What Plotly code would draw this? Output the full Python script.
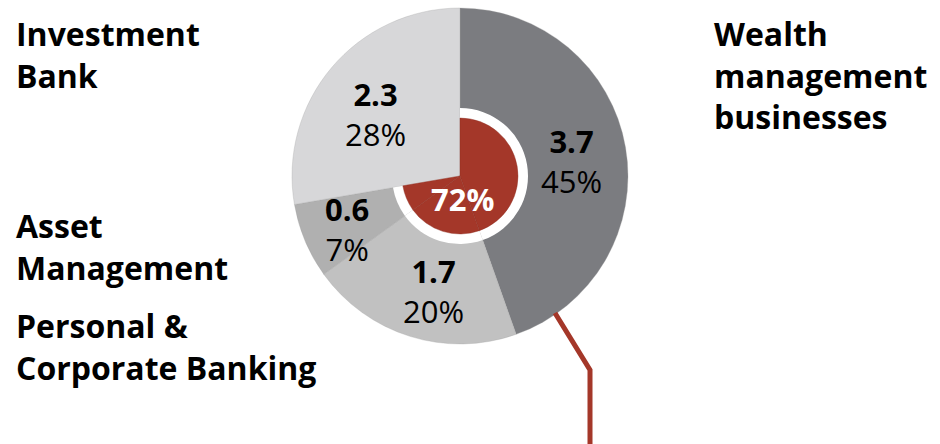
import plotly.graph_objects as go

# ---- data ----
segments = ["Wealth management businesses", "Personal & Corporate Banking",
            "Asset Management", "Investment Bank"]
values = [3.7, 1.7, 0.6, 2.3]
shares = ["45%", "20%", "7%", "28%"]
wealth_share_label = "72%"
inner_flags = [True, True, True, False]   # segments making up the 72%

# ---- style ----
W, H = 940, 444
CX, CY = 460, 176          # pie centre in pixels (from top)
R_OUT, R_RING, R_RED = 168, 68, 58
seg_colors = ["#7b7c80", "#c1c1c1", "#b0b0b0", "#d7d7d9"]
RED = "#a43729"
FONT = "Open Sans"
CLEAR = "rgba(0,0,0,0)"

def dom(r):
    return dict(x=[(CX - r) / W, (CX + r) / W],
                y=[(H - CY - r) / H, (H - CY + r) / H])

def px(x, y):
    return x / W, (H - y) / H

fig = go.Figure()
# outer full pie
fig.add_trace(go.Pie(values=values, labels=segments, sort=False, direction="clockwise",
                     rotation=0, domain=dom(R_OUT), textinfo="none", hoverinfo="skip",
                     marker=dict(colors=seg_colors, line=dict(color="#a0a0a0", width=0.3)),
                     showlegend=False))
# white ring behind red part
fig.add_trace(go.Pie(values=values, labels=segments, sort=False, direction="clockwise",
                     rotation=0, domain=dom(R_RING), textinfo="none", hoverinfo="skip",
                     marker=dict(colors=["white" if f else CLEAR for f in inner_flags],
                                 line=dict(width=0)),
                     showlegend=False))
# red inner pie
fig.add_trace(go.Pie(values=values, labels=segments, sort=False, direction="clockwise",
                     rotation=0, domain=dom(R_RED), textinfo="none", hoverinfo="skip",
                     marker=dict(colors=[RED if f else CLEAR for f in inner_flags],
                                 line=dict(color=["#8e2e22" if f else CLEAR for f in inner_flags],
                                           width=0.4)),
                     showlegend=False))

# slice value labels
label_pos = [(571, 161), (433, 291), (347, 229), (375, 114)]
for v, s, (lx, ly) in zip(values, shares, label_pos):
    x, y = px(lx, ly)
    fig.add_annotation(x=x, y=y, xref="paper", yref="paper", showarrow=False,
                       xanchor="center", yanchor="middle",
                       text=f"<b>{v}</b><br>{s}", align="center",
                       font=dict(family=FONT, size=31, color="black"))

x, y = px(462, 199)
fig.add_annotation(x=x, y=y, xref="paper", yref="paper", showarrow=False,
                   xanchor="center", yanchor="middle",
                   text=f"<b>{wealth_share_label}</b>",
                   font=dict(family=FONT, size=31, color="white"))

# category labels
cat_pos = [(712, 10, "Wealth<br>management<br>businesses"),
           (14, 302, "Personal &<br>Corporate Banking"),
           (14, 202, "Asset<br>Management"),
           (14, 10, "Investment<br>Bank")]
for lx, ly, txt in cat_pos:
    x, y = px(lx, ly)
    fig.add_annotation(x=x, y=y, xref="paper", yref="paper", showarrow=False,
                       xanchor="left", yanchor="top", align="left",
                       text=f"<b>{txt}</b>",
                       font=dict(family=FONT, size=32, color="black"))

# red leader line
pts = [px(555, 313), px(590, 370), px(590, 444)]
path = "M " + " L ".join(f"{a},{b}" for a, b in pts)
fig.add_shape(type="path", path=path, xref="paper", yref="paper",
              line=dict(color=RED, width=5), layer="above")

fig.update_layout(width=W, height=H, margin=dict(l=0, r=0, t=0, b=0),
                  paper_bgcolor="white", plot_bgcolor="white", showlegend=False)
fig.write_html("out.html")
